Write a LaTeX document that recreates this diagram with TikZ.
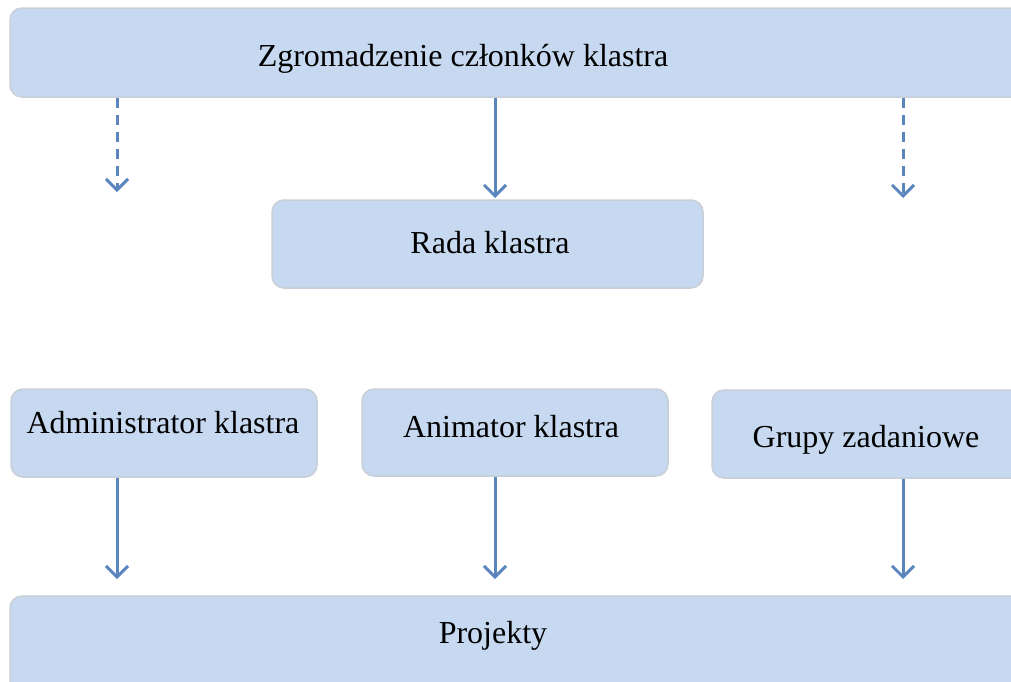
\documentclass[tikz,border=0pt]{standalone}
\usepackage{fontspec}
\setmainfont{Liberation Serif}
\usetikzlibrary{arrows.meta}
\definecolor{boxfill}{HTML}{C6D9F0}
\definecolor{boxline}{HTML}{C9CFD8}
\definecolor{arrowc}{HTML}{5B86BD}
\begin{document}
\begin{tikzpicture}[x=1pt,y=-1pt,
  box/.style={draw=boxline,line width=1.5pt,fill=boxfill,rounded corners=12pt},
  lbl/.style={anchor=base,inner sep=0pt,font=\fontsize{32}{36}\selectfont},
  conn/.style={draw=arrowc,line width=3pt,-{Straight Barb[length=11pt,width=22pt,line width=3pt]}},
  dconn/.style={conn,dash pattern=on 10pt off 7pt}]
\useasboundingbox (0,0) rectangle (1011,681);
\clip (0,0) rectangle (1011,681);
% boxes
\path[box] (10,8) rectangle (1040,97);
\path[box] (272,200) rectangle (703,288);
\path[box] (11,389) rectangle (317,477);
\path[box] (362,389) rectangle (668,476);
\path[box] (712,390) rectangle (1040,478);
\path[box] (10,596) rectangle (1040,700);
% texts
\node[lbl] (t1) at (463,66) {Zgromadzenie członków klastra};
\node[lbl] (t2) at (490,253) {Rada klastra};
\node[lbl] (t3) at (163,433) {Administrator klastra};
\node[lbl] (t4) at (511,437) {Animator klastra};
\node[lbl] (t5) at (866,447) {Grupy zadaniowe};
\node[lbl] (t6) at (493,643) {Projekty};
% connector coordinates
\coordinate (a1s) at (117,98);  \coordinate (a1e) at (117,192);
\coordinate (a2s) at (495,98);  \coordinate (a2e) at (495,198);
\coordinate (a3s) at (903,98);  \coordinate (a3e) at (903,198);
\coordinate (b1s) at (117,478); \coordinate (b1e) at (117,579);
\coordinate (b2s) at (495,477); \coordinate (b2e) at (495,579);
\coordinate (b3s) at (903,479); \coordinate (b3e) at (903,579);
\draw[dconn] (a1s) -- (a1e);
\draw[conn] (a2s) -- (a2e);
\draw[dconn] (a3s) -- (a3e);
\draw[conn] (b1s) -- (b1e);
\draw[conn] (b2s) -- (b2e);
\draw[conn] (b3s) -- (b3e);
\end{tikzpicture}
\end{document}
